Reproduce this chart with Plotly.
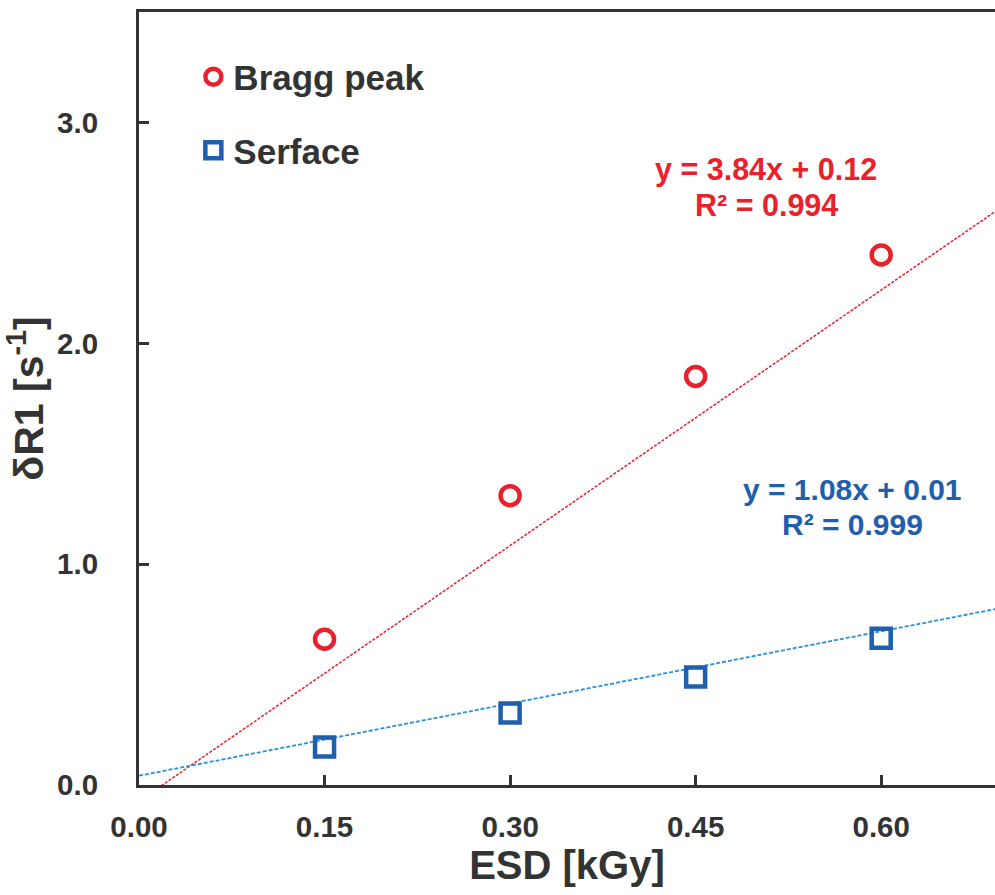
import plotly.graph_objects as go

# ---- data ----
esd = [0.15, 0.30, 0.45, 0.60]
bragg = [0.66, 1.31, 1.85, 2.40]
surface = [0.172, 0.326, 0.489, 0.665]

# trend lines as drawn (slope, intercept)
bragg_fit = [3.857, -0.073]
surface_fit = [1.09, 0.042]
fit_x = [0.0, 0.70]

bragg_eq = ["y = 3.84x + 0.12", "R² = 0.994"]
surface_eq = ["y = 1.08x + 0.01", "R² = 0.999"]

x_ticks = [0.00, 0.15, 0.30, 0.45, 0.60]
y_ticks = [0.0, 1.0, 2.0, 3.0]

RED = "#e8212d"
BLUE = "#1f5fad"
LBLUE = "#2a8fe0"
DARK = "#333333"
FONT = "Liberation Sans"

fig = go.Figure()

fig.add_trace(go.Scatter(
    x=fit_x, y=[bragg_fit[0] * v + bragg_fit[1] for v in fit_x],
    mode="lines", line=dict(color=RED, width=1.5, dash="3px,1.5px"),
    showlegend=False, hoverinfo="skip"))
fig.add_trace(go.Scatter(
    x=fit_x, y=[surface_fit[0] * v + surface_fit[1] for v in fit_x],
    mode="lines", line=dict(color=LBLUE, width=1.8, dash="4px,2px"),
    showlegend=False, hoverinfo="skip"))

fig.add_trace(go.Scatter(
    x=esd, y=bragg, mode="markers", name="Bragg peak", legendgroup="a",
    marker=dict(symbol="circle-open", size=19, color=RED, line=dict(width=4.5, color=RED))))
fig.add_trace(go.Scatter(
    x=esd, y=surface, mode="markers", name="Serface", legendgroup="b",
    marker=dict(symbol="square-open", size=19, color=BLUE, line=dict(width=4.5, color=BLUE))))

for txt, yy in zip(bragg_eq, [2.785, 2.627]):
    fig.add_annotation(x=0.507, y=yy, xref="x", yref="y", text=txt, showarrow=False,
                       font=dict(family=FONT, size=30.5, color=RED, weight="bold"))
for txt, yy in zip(surface_eq, [1.336, 1.178]):
    fig.add_annotation(x=0.577, y=yy, xref="x", yref="y", text=txt, showarrow=False,
                       font=dict(family=FONT, size=30, color=BLUE, weight="bold"))

fig.update_layout(
    width=995, height=895,
    margin=dict(l=139, r=0, t=12, b=110),
    paper_bgcolor="white", plot_bgcolor="white",
    font=dict(family=FONT, color=DARK),
    legend=dict(x=0.0635, y=0.954, xanchor="left", yanchor="top",
                font=dict(family=FONT, size=35, color=DARK, weight="bold"),
                tracegroupgap=25, bgcolor="rgba(0,0,0,0)", itemsizing="trace"),
    xaxis=dict(range=[0, 0.692], tickvals=x_ticks, ticktext=[f"{v:.2f}" for v in x_ticks],
               showgrid=False, zeroline=False, showline=True, linecolor=DARK, linewidth=3,
               mirror=True, ticks="inside", ticklen=10, tickwidth=2.5, tickcolor=DARK,
               ticklabelstandoff=14,
               tickfont=dict(family=FONT, size=29.5, color=DARK, weight="bold"),
               title=dict(text="ESD [kGy]", standoff=9,
                          font=dict(family=FONT, size=40, color=DARK, weight="bold"))),
    yaxis=dict(range=[0, 3.5], tickvals=y_ticks, ticktext=[f"{v:.1f}" for v in y_ticks],
               showgrid=False, zeroline=False, showline=True, linecolor=DARK, linewidth=3,
               mirror=False, ticks="inside", ticklen=10, tickwidth=2.5, tickcolor=DARK,
               ticklabelstandoff=32,
               tickfont=dict(family=FONT, size=29.5, color=DARK, weight="bold"),
               title=dict(text="δR1 [s<sup>-1</sup>]", standoff=8,
                          font=dict(family=FONT, size=41, color=DARK, weight="bold"))),
)

fig.write_html("out.html")
